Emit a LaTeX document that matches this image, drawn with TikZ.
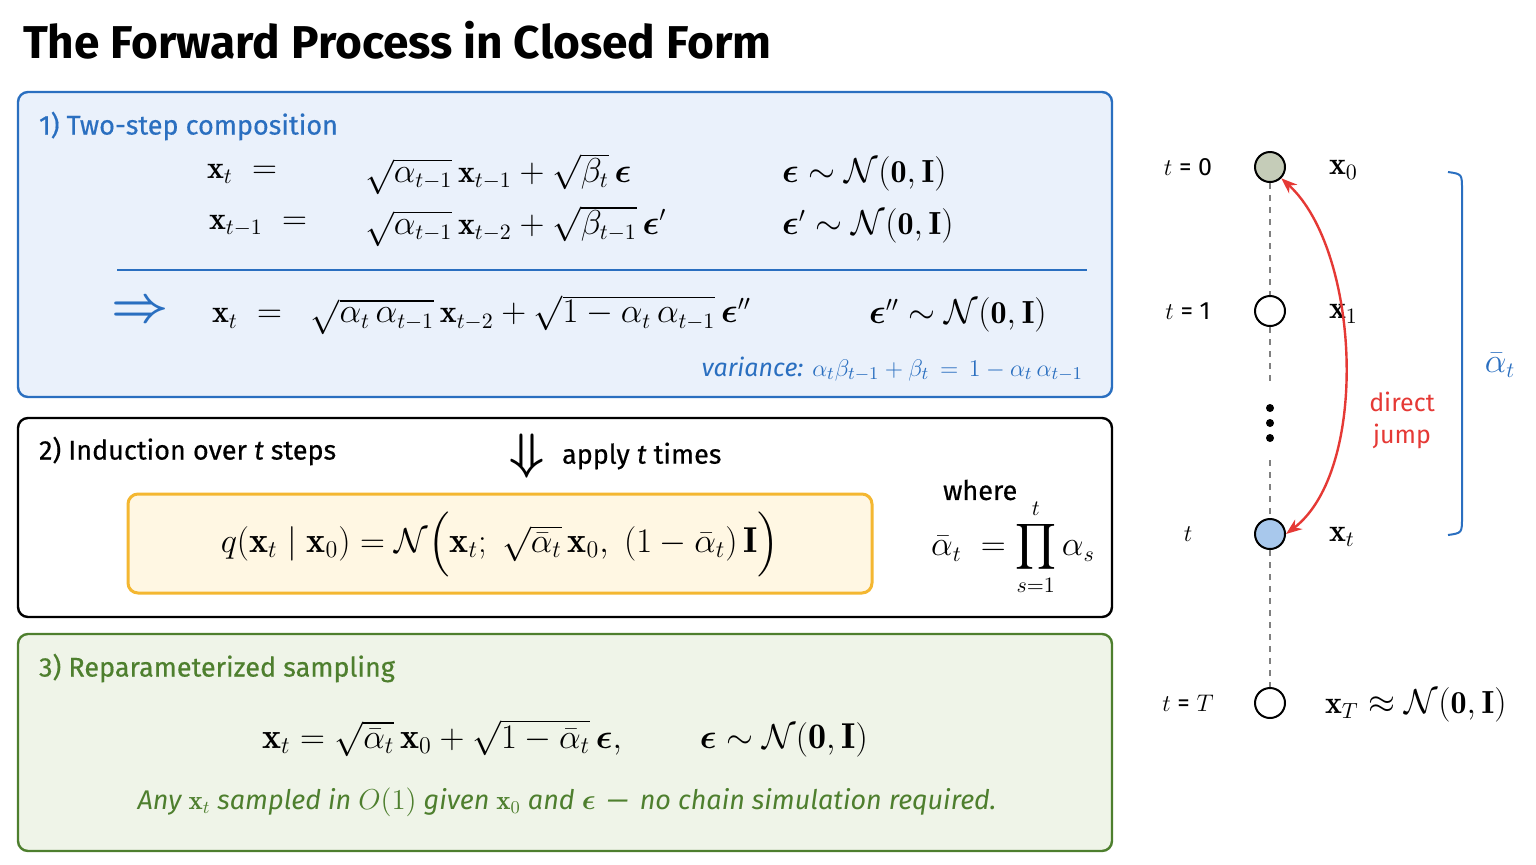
\documentclass[tikz,border=0pt]{standalone}
\usepackage{amsmath,amssymb,bm}
\usepackage{fontspec}
\setsansfont{Fira Sans}
\usetikzlibrary{decorations.pathreplacing,arrows.meta}
\definecolor{bblue}{HTML}{2A6FC0}
\definecolor{bfill}{HTML}{EAF1FB}
\definecolor{ggreen}{HTML}{4E7F2E}
\definecolor{gfill}{HTML}{EFF4E8}
\definecolor{yfill}{HTML}{FFF7E3}
\definecolor{ybord}{HTML}{F4B731}
\definecolor{rred}{HTML}{E53935}
\definecolor{c0fill}{HTML}{C5CCB8}
\definecolor{ctfill}{HTML}{A8C8EC}
\newcommand{\bx}{\mathbf{x}}
\newcommand{\be}{\boldsymbol{\epsilon}}
\newcommand{\NI}{\mathcal{N}(\mathbf{0},\mathbf{I})}
\begin{document}
\begin{tikzpicture}[x=0.5pt,y=-0.5pt,
  panel/.style={draw,line width=1.2pt,rounded corners=5pt},
  lbl/.style={font=\sffamily\fontsize{13.5}{16}\selectfont\addfontfeature{FakeBold=0.5},anchor=west},
  eq/.style={font=\fontsize{16}{18}\selectfont},
  pt/.style={circle,draw,line width=1pt,minimum size=15pt,inner sep=0pt},
  tl/.style={font=\sffamily\fontsize{12.5}{14}\selectfont}]
\useasboundingbox (0,0) rectangle (1536,864);
\node[anchor=west,font=\sffamily\bfseries\fontsize{23}{26}\selectfont] (title) at (16,40) {The Forward Process in Closed Form};
% box 1
\draw[panel,draw=bblue,fill=bfill] (18,92) rectangle (1112,397);
\node[lbl,text=bblue] (t1) at (32,126) {1) Two-step composition};
\node[eq,anchor=east] (l1) at (284,174) {$\bx_t\;=$};
\node[eq,anchor=west] (r1) at (358,174) {$\sqrt{\alpha_{t-1}}\,\bx_{t-1}+\sqrt{\beta_t}\,\be$};
\node[eq,anchor=west] (n1) at (775,174) {$\be\sim\NI$};
\node[eq,anchor=east] (l2) at (314,226) {$\bx_{t-1}\;=$};
\node[eq,anchor=west] (r2) at (358,226) {$\sqrt{\alpha_{t-1}}\,\bx_{t-2}+\sqrt{\beta_{t-1}}\,\be'$};
\node[eq,anchor=west] (n2) at (775,226) {$\be'\sim\NI$};
\draw[bblue,line width=1pt] (117,270) -- (1087,270);
\node[font=\fontsize{24}{24}\selectfont\boldmath,text=bblue] (imp) at (140,312) {$\Rightarrow$};
\node[eq,anchor=west] (r3) at (205,315) {$\bx_t\;=\;\;\sqrt{\alpha_t\,\alpha_{t-1}}\,\bx_{t-2}+\sqrt{1-\alpha_t\,\alpha_{t-1}}\,\be''$};
\node[eq,anchor=west] (n3) at (862,315) {$\be''\sim\NI$};
\node[anchor=east,text=bblue,font=\sffamily\fontsize{12.5}{14}\selectfont] (var) at (1090,369) {\textit{variance:} $\alpha_t\beta_{t-1}+\beta_t\,=\,1-\alpha_t\,\alpha_{t-1}$};
% box 2
\draw[panel,draw=black,fill=white] (18,418) rectangle (1112,617);
\node[lbl] (t2) at (32,451) {2) Induction over \textit{t} steps};
\node[font=\fontsize{24}{24}\selectfont\boldmath] (dn) at (527,456) {$\Downarrow$};
\node[lbl] (ap) at (555,456) {apply \textit{t} times};
\draw[line width=1.5pt,draw=ybord,fill=yfill,rounded corners=5pt] (128,494) rectangle (872,593);
\node[font=\fontsize{18}{20}\selectfont] (qf) at (500,544) {$q(\bx_t\mid\bx_0)=\mathcal{N}\Big(\bx_t;\;\sqrt{\bar\alpha_t}\,\bx_0,\;(1-\bar\alpha_t)\,\mathbf{I}\Big)$};
\node[lbl] (wh) at (936,490) {where};
\node[eq] (ab) at (1013,547) {$\displaystyle\bar\alpha_t\;=\prod_{s=1}^{t}\alpha_s$};
% box 3
\draw[panel,draw=ggreen,fill=gfill] (18,634) rectangle (1112,851);
\node[lbl,text=ggreen] (t3) at (32,668) {3) Reparameterized sampling};
\node[font=\fontsize{18}{20}\selectfont] (rp) at (565,738) {$\bx_t=\sqrt{\bar\alpha_t}\,\bx_0+\sqrt{1-\bar\alpha_t}\,\be,\qquad \be\sim\NI$};
\node[text=ggreen,font=\sffamily\itshape\fontsize{13.5}{16}\selectfont] (nt) at (567,802) {Any $\bx_t$ sampled in $O(1)$ given $\bx_0$ and $\be$ \,---\, no chain simulation required.};
% right chain
\node[pt,fill=c0fill] (c0) at (1270,167) {};
\node[pt,fill=white] (c1) at (1270,311) {};
\node[pt,fill=ctfill] (ct) at (1270,534) {};
\node[pt,fill=white] (cT) at (1270,703) {};
\draw[gray,dashed,line width=1.2pt] (c0) -- (c1);
\draw[gray,dashed,line width=1.2pt] (c1) -- (1270,385);
\draw[gray,dashed,line width=1.2pt] (1270,460) -- (ct);
\draw[gray,dashed,line width=1.2pt] (ct) -- (cT);
\foreach \yy in {408,423,438} \fill (1270,\yy) circle (2pt);
\node[tl] (a0) at (1188,167) {$t$ = 0};
\node[tl] (a1) at (1188,311) {$t$ = 1};
\node[tl] (at) at (1188,534) {$t$};
\node[tl] (aT) at (1188,703) {$t$ = $T$};
\node[eq,anchor=west] (x0) at (1322,170) {$\bx_0$};
\node[eq,anchor=west] (x1) at (1322,314) {$\bx_1$};
\node[eq,anchor=west] (xt) at (1322,537) {$\bx_t$};
\node[eq,anchor=west] (xT) at (1318,705) {$\bx_T\approx\NI$};
\draw[rred,line width=1.2pt,{Stealth[length=8pt]}-{Stealth[length=8pt]}] (ct.east) .. controls (1370,470) and (1360,250) .. (c0.south east);
\node[text=rred,font=\sffamily\fontsize{12.5}{16}\selectfont,align=center] (dj) at (1402,420) {direct\\jump};
\draw[bblue,line width=1pt] (1448,172) .. controls (1462,174) .. (1462,190) -- (1462,517) .. controls (1462,533) .. (1448,535);
\node[eq,text=bblue] (ba) at (1500,365) {$\bar\alpha_t$};
\end{tikzpicture}
\end{document}
